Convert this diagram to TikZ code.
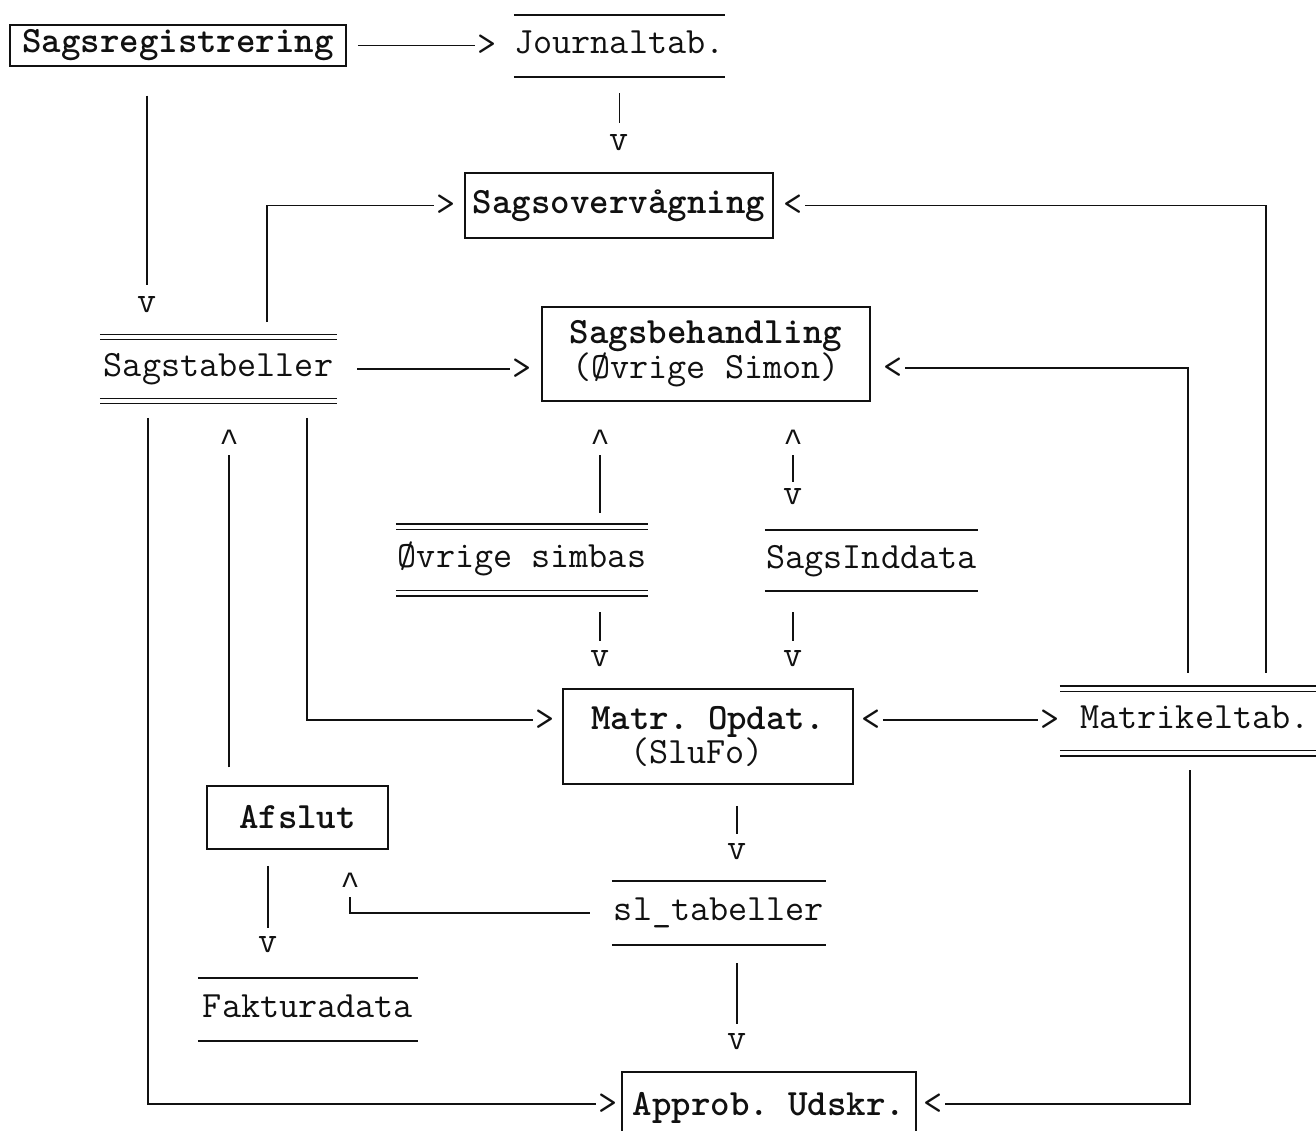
\documentclass[tikz,border=0pt]{standalone}
\usepackage{fontspec}
\newfontfamily\caretfont{Liberation Mono}
\usepackage{tikz}
\frenchspacing
\definecolor{scanInk}{HTML}{111111}
\tikzset{
  proc/.style   ={draw=scanInk,line width=1.5pt,inner sep=0pt},
  store/.style  ={inner sep=0pt,text height=22pt,text depth=7pt},
  rule/.style   ={scanInk,line width=1.6pt},
  drule/.style  ={scanInk,line width=1.4pt,double,double distance=4pt},
  wire/.style   ={scanInk,line width=1.6pt},
  head/.style   ={inner sep=0pt,text=scanInk},
  headup/.style ={head,anchor=north,font=\caretfont\fontsize{32.5}{32}\selectfont},
}

\begin{document}
\begin{tikzpicture}[x=1pt,y=-1pt,font=\ttfamily\fontsize{37.1}{32}\selectfont,text=scanInk]
\useasboundingbox (0,0) rectangle (1316,1131);

% programs
\node[proc,minimum width=336,minimum height=41] (reg) at (178,45.5) {\textbf{Sagsregistrering}};
\node[proc,minimum width=308,minimum height=65] (overv) at (619,205.5) {\textbf{Sagsovervågning}};
\node[proc,minimum width=328,minimum height=94,align=center] (behand) at (706,354)
  {\textbf{Sagsbehandling}\\(Øvrige Simon)};
\node[proc,minimum width=290,minimum height=95,align=left] (opdat) at (708,736.5)
  {\textbf{Matr. Opdat.}\\\hspace*{39pt}(SluFo)};
\node[proc,minimum width=181,minimum height=63] (afslut) at (297.5,817.5) {\textbf{Afslut}};
\node[proc,minimum width=294,minimum height=72] (approb) at (769,1108) {\textbf{Approb. Udskr.}};

% tables
\node[store,minimum width=211,minimum height=62] (journal) at (619.5,46) {Journaltab.};
\node[store,minimum width=237,minimum height=63.5] (stab) at (218.5,369) {Sagstabeller};
\node[store,minimum width=252,minimum height=66] (oevrige) at (522,560) {Øvrige simbas};
\node[store,minimum width=213,minimum height=61] (inddata) at (871.5,560.5) {SagsInddata};
\node[store,minimum width=270,minimum height=64.5] (matrtab) at (1195,721) {Matrikeltab.};
\node[store,minimum width=214,minimum height=64] (sltab) at (719,913) {sl\_tabeller};
\node[store,minimum width=220,minimum height=63] (faktura) at (308,1009.5) {Fakturadata};

\foreach \n in {journal,inddata,sltab,faktura}
  { \draw[rule] (\n.north west) -- (\n.north east);
    \draw[rule] (\n.south west) -- (\n.south east); }
\foreach \n in {stab,oevrige,matrtab}
  { \draw[drule] (\n.north west) -- (\n.north east);
    \draw[drule] (\n.south west) -- (\n.south east); }

% arrow heads, typed as characters
\node[head] (h1) at (487,45.5) {>};
\node[head] (h2) at (619.5,143) {v};
\node[head] (h3) at (446,205.5) {>};
\node[head] (h4) at (793,205.5) {<};
\node[head] (h5) at (147,305) {v};
\node[head] (h6) at (522,369) {>};
\node[head] (h7) at (893,368) {<};
\node[head] (h8) at (608,1104) {>};
\node[headup] (h9) at (229,430) {\textasciicircum};
\node[head] (h10) at (545,720) {>};
\node[headup] (h11) at (600,430) {\textasciicircum};
\node[headup] (h12a) at (793,430) {\textasciicircum};
\node[head] (h12b) at (793,497) {v};
\node[head] (h13) at (600,659) {v};
\node[head] (h14) at (793,659) {v};
\node[head] (h15a) at (871,720) {<};
\node[head] (h15b) at (1050,720) {>};
\node[head] (h16) at (737,852) {v};
\node[headup] (h17) at (350,873) {\textasciicircum};
\node[head] (h18) at (268,945) {v};
\node[head] (h19) at (737,1042) {v};
\node[head] (h20) at (933,1104) {<};

% connectors
\draw[wire,shorten <=11pt,shorten >=2pt] (reg.east) -- (h1.west);
\draw[wire,shorten <=16pt,shorten >=12pt] (journal.south) -- (h2.north);
\draw[wire,shorten >=2pt] ([xshift=48.5,yshift=15]stab.north) |- (h3.west);
\draw[wire,shorten >=2pt] ([xshift=71,yshift=16]matrtab.north) |- (h4.east);
\draw[wire,shorten <=29pt,shorten >=12pt] ([xshift=-31]reg.south) -- (h5.north);
\draw[wire,shorten <=20pt,shorten >=2pt] (stab.east) -- (h6.west);
\draw[wire,shorten >=2pt] ([xshift=-7,yshift=16]matrtab.north) |- (h7.east);
\draw[wire,shorten >=2pt] ([xshift=-70.5,yshift=-17]stab.south) |- (h8.west);
\draw[wire] ([xshift=-68.5,yshift=18]afslut.north) -- ([yshift=-25]h9.north);
\draw[wire,shorten >=2pt] ([xshift=88.5,yshift=-17]stab.south) |- (h10.west);
\draw[wire,shorten <=14pt] ([xshift=78]oevrige.north) -- ([yshift=-25]h11.north);
\draw[wire] ([yshift=-25]h12a.north) -- ([yshift=6.5]h12b.north);
\draw[wire,shorten <=19pt,shorten >=10pt] ([xshift=78]oevrige.south) -- (h13.north);
\draw[wire,shorten <=21pt,shorten >=10pt] ([xshift=-78.5]inddata.south) -- (h14.north);
\draw[wire,shorten <=2pt,shorten >=2pt] (h15a.east) -- (h15b.west);
\draw[wire,shorten <=21pt,shorten >=10pt] ([xshift=29]opdat.south) -- (h16.north);
\draw[wire,shorten <=22pt] (sltab.west) -| ([yshift=-24]h17.north);
\draw[wire,shorten <=16pt,shorten >=8.5pt] ([xshift=-29.5]afslut.south) -- (h18.north);
\draw[wire,shorten <=18pt,shorten >=9.5pt] ([xshift=18]sltab.south) -- (h19.north);
\draw[wire,shorten >=2pt] ([xshift=-5,yshift=-17]matrtab.south) |- (h20.east);
\end{tikzpicture}
\end{document}
